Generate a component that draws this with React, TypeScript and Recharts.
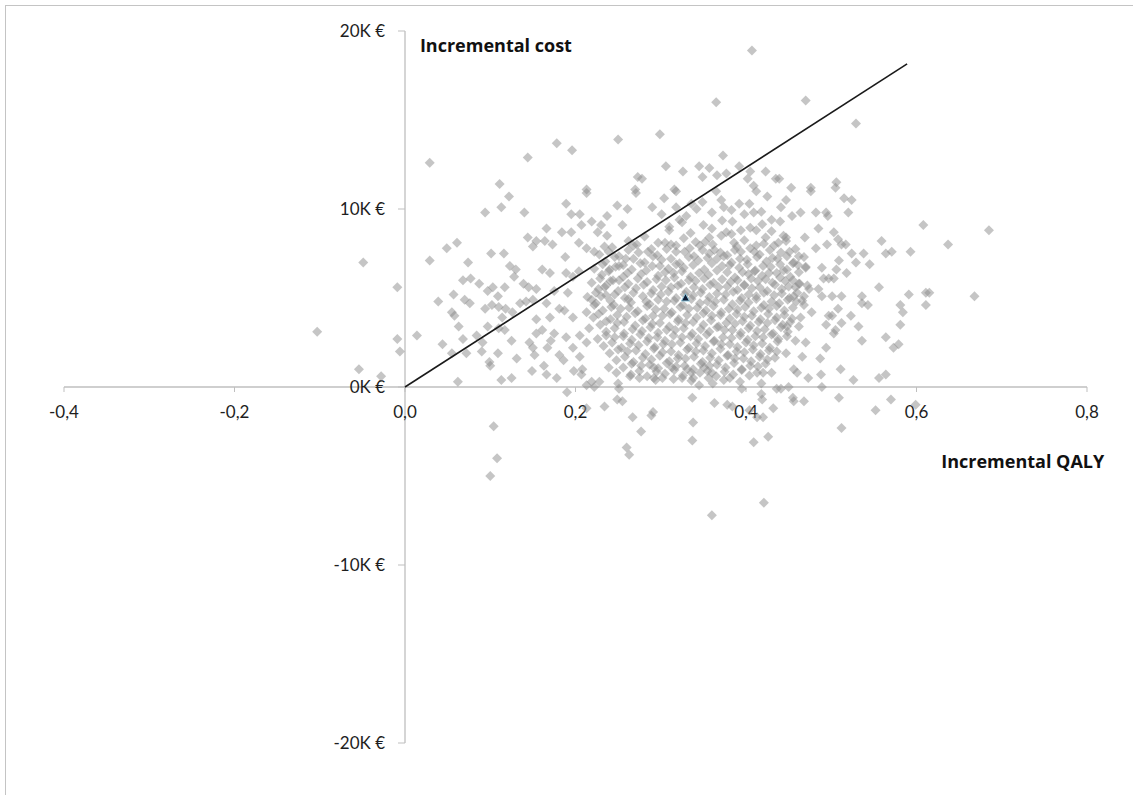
import { ScatterChart, Scatter, XAxis, YAxis, ReferenceLine, ReferenceDot } from "recharts";

// Cost-effectiveness plane: each pair is [incremental QALY, incremental cost in K€]
const X_TICKS = [-0.4, -0.2, 0, 0.2, 0.4, 0.6, 0.8];
const Y_TICKS = [-20000, -10000, 0, 10000, 20000];

const outliers: [number, number][] = [
  [-0.103, 3.1], [-0.049, 7.0], [-0.009, 5.6], [-0.054, 1.0], [-0.028, 0.6], [-0.009, 2.7], [-0.006, 2.0],
  [0.029, 12.6], [0.144, 12.9], [0.111, 11.4], [0.178, 13.7], [0.196, 13.3], [0.25, 13.9], [0.299, 14.2],
  [0.365, 16.0], [0.407, 18.9], [0.47, 16.1], [0.529, 14.8],
  [0.608, 9.1], [0.685, 8.8], [0.637, 8.0], [0.668, 5.1], [0.611, 5.3], [0.615, 5.3], [0.611, 4.6],
  [0.104, -2.2], [0.108, -4.0], [0.1, -5.0], [0.421, -6.5], [0.36, -7.2], [0.512, -2.3], [0.599, -1.0],
  [0.552, -1.3], [0.57, -0.7],
];

const upperBand: [number, number][] = [
  [0.306, 12.4], [0.326, 12.1], [0.345, 12.4], [0.357, 12.3], [0.373, 13.0], [0.392, 12.4], [0.405, 12.1],
  [0.423, 12.1], [0.435, 11.7], [0.273, 11.8], [0.278, 11.7], [0.349, 11.8], [0.366, 11.9], [0.377, 12.0],
  [0.402, 11.7], [0.409, 11.3], [0.213, 11.1], [0.27, 11.1], [0.316, 11.1], [0.439, 11.7], [0.453, 11.2],
  [0.476, 11.2], [0.506, 11.5], [0.505, 11.2],
  [0.213, 10.9], [0.271, 10.9], [0.189, 10.3], [0.195, 9.7], [0.205, 9.7], [0.207, 9.1], [0.166, 8.9],
  [0.184, 8.7], [0.195, 8.7], [0.219, 9.3], [0.23, 9.1], [0.226, 8.7], [0.237, 9.6], [0.249, 10.2],
  [0.255, 9.1], [0.261, 10.0], [0.237, 8.5], [0.164, 8.2], [0.173, 8.0], [0.204, 8.1], [0.213, 7.8],
  [0.222, 7.6], [0.234, 7.9], [0.188, 7.3], [0.204, 6.5], [0.161, 6.6], [0.17, 6.4], [0.189, 6.4],
  [0.197, 6.2], [0.175, 5.4], [0.191, 5.3], [0.166, 4.7], [0.181, 4.4], [0.187, 4.3], [0.197, 3.9],
  [0.17, 3.9], [0.161, 3.2], [0.175, 3.0], [0.189, 2.8], [0.197, 2.2], [0.167, 2.2], [0.181, 1.8],
  [0.205, 1.7], [0.213, 2.5], [0.216, 3.3], [0.213, 4.2], [0.222, 4.6], [0.23, 5.1], [0.234, 5.6],
  [0.24, 6.6], [0.251, 6.8], [0.244, 6.0],
  [0.29, 10.1], [0.304, 10.6], [0.318, 10.1], [0.322, 9.4], [0.31, 9.0], [0.301, 9.7], [0.33, 9.6],
  [0.336, 10.3], [0.342, 10.0], [0.349, 10.4], [0.36, 9.8], [0.371, 10.5], [0.374, 10.1], [0.384, 9.3],
  [0.392, 10.3], [0.404, 10.3], [0.412, 11.0], [0.398, 9.7], [0.409, 9.8], [0.43, 9.4], [0.425, 10.7],
  [0.365, 11.0], [0.318, 11.0], [0.394, 8.8], [0.412, 8.8], [0.423, 8.4], [0.377, 8.7], [0.357, 8.4],
];

const leftBand: [number, number][] = [
  [0.014, 2.9], [0.029, 7.1], [0.049, 7.8], [0.061, 8.1], [0.094, 9.8], [0.113, 10.1], [0.122, 10.7],
  [0.14, 9.8], [0.074, 7.0], [0.101, 7.5], [0.116, 7.5], [0.068, 6.0], [0.077, 6.1], [0.087, 5.8],
  [0.057, 5.2], [0.039, 4.8], [0.07, 4.9], [0.076, 4.7], [0.097, 5.4], [0.103, 5.6], [0.109, 5.1],
  [0.117, 5.6], [0.123, 6.8], [0.13, 6.6], [0.128, 6.2], [0.139, 5.8], [0.145, 5.6], [0.154, 5.5],
  [0.144, 8.4], [0.15, 7.9], [0.154, 8.2], [0.055, 4.2], [0.058, 4.0], [0.094, 4.4], [0.102, 4.6],
  [0.11, 4.5], [0.118, 4.4], [0.126, 4.2], [0.135, 4.7], [0.142, 4.8], [0.063, 3.4], [0.097, 3.4],
  [0.114, 3.9], [0.11, 3.3], [0.117, 3.2], [0.068, 2.7], [0.084, 2.9], [0.091, 2.5], [0.125, 2.6],
  [0.044, 2.4], [0.055, 1.9], [0.072, 1.9], [0.09, 2.0], [0.109, 1.9], [0.146, 2.5], [0.15, 2.2],
  [0.154, 3.0], [0.152, 1.8], [0.131, 1.6], [0.099, 1.4], [0.154, 3.8], [0.15, 4.9],
  [0.062, 0.3], [0.1, 1.2], [0.113, 0.4], [0.125, 0.5], [0.149, 0.9],
  [0.163, 1.2], [0.178, 0.5], [0.186, 1.5], [0.198, 0.9], [0.205, 2.9], [0.171, 2.6],
];

const lowerBand: [number, number][] = [
  [0.19, -0.3], [0.213, -1.2], [0.234, -1.1], [0.249, -0.7], [0.255, -0.8], [0.267, -1.7], [0.277, -2.5],
  [0.289, -1.6], [0.291, -1.4], [0.26, -3.4], [0.263, -3.8], [0.337, -0.6], [0.338, -2.0], [0.337, -3.0],
  [0.363, -0.9], [0.378, -1.0], [0.384, -1.1], [0.404, -1.3], [0.413, -1.7], [0.42, -1.7], [0.432, -1.2],
  [0.409, -3.1], [0.426, -2.8], [0.418, -0.4], [0.419, -0.7],
  [0.166, 0.7], [0.207, 0.7], [0.208, 1.0], [0.213, 0.1], [0.219, 0.3], [0.222, 0.0], [0.228, 0.3],
  [0.239, 1.1], [0.248, 0.8], [0.25, 0.2], [0.251, -0.1], [0.264, 0.6], [0.275, 0.5], [0.292, 0.5],
  [0.302, 0.5], [0.292, 1.1], [0.313, 1.1], [0.325, 0.5], [0.338, 0.5], [0.331, 1.0], [0.345, 0.1],
  [0.351, 1.1], [0.361, 0.2], [0.36, 0.8], [0.381, 0.5], [0.393, 0.3], [0.395, -0.1], [0.418, 0.2],
  [0.42, 0.8], [0.43, 0.8], [0.436, -0.1],
  [0.456, 1.0], [0.46, 0.8], [0.45, 0.0], [0.441, -0.1], [0.455, -0.6], [0.456, -0.8], [0.468, -0.8],
  [0.473, 0.5], [0.488, 0.7], [0.489, 0.0], [0.511, 1.0], [0.509, -0.6], [0.526, 0.4], [0.556, 0.5],
  [0.564, 0.7],
];

const rightBand: [number, number][] = [
  [0.559, 8.2], [0.564, 7.5], [0.571, 7.6], [0.593, 7.6], [0.538, 7.5], [0.545, 6.9], [0.529, 7.0],
  [0.524, 7.5], [0.556, 5.6], [0.591, 5.2], [0.581, 4.6], [0.584, 4.2], [0.581, 3.5], [0.536, 5.1],
  [0.543, 4.6], [0.536, 4.7], [0.532, 3.4], [0.536, 2.6], [0.564, 2.8], [0.573, 2.2], [0.579, 2.4],
  [0.494, 2.2], [0.487, 1.6], [0.512, 3.6], [0.523, 4.0], [0.505, 3.2], [0.501, 4.0], [0.494, 3.5],
  [0.508, 4.4], [0.512, 5.1], [0.501, 5.1], [0.489, 5.1], [0.485, 5.5], [0.509, 7.1], [0.506, 6.6],
  [0.518, 6.4], [0.497, 6.1], [0.491, 6.1], [0.503, 6.1], [0.489, 6.7], [0.495, 8.0], [0.512, 8.0],
  [0.517, 8.0], [0.482, 7.8], [0.503, 8.7], [0.508, 8.3], [0.469, 8.4], [0.494, 9.8], [0.496, 9.6],
  [0.482, 9.8], [0.485, 8.9], [0.52, 9.8], [0.515, 10.6], [0.524, 10.5], [0.476, 11.0], [0.447, 10.5],
  [0.464, 9.8], [0.454, 9.6], [0.444, 8.5], [0.447, 8.2], [0.456, 7.0], [0.468, 7.3], [0.47, 6.7],
  [0.462, 5.8], [0.474, 5.5], [0.456, 5.1], [0.468, 4.6], [0.477, 4.2], [0.464, 3.9], [0.462, 3.4],
  [0.448, 3.4], [0.47, 2.5], [0.466, 1.7], [0.447, 1.9], [0.497, 4.0], [0.503, 3.0],
];

const core: [number, number][] = [
  [0.262, 8.2], [0.281, 8.45], [0.305, 8.1], [0.327, 8.35], [0.352, 8.15], [0.371, 8.5], [0.398, 8.25], [0.421, 8.05], [0.447, 8.4],
  [0.31, 8.8], [0.335, 8.65], [0.36, 8.9], [0.383, 8.6], [0.405, 8.95], [0.43, 8.75],
  [0.325, 9.25], [0.35, 9.1], [0.372, 9.35], [0.419, 9.15], [0.44, 9.3],
  [0.383, 9.95], [0.418, 9.85], [0.441, 10.1],
  [0.243, 7.85], [0.268, 7.95], [0.289, 7.75], [0.312, 8.0], [0.334, 7.8], [0.346, 7.95], [0.363, 7.7], [0.389, 7.9], [0.405, 7.8], [0.433, 7.95], [0.458, 7.75],
  [0.228, 7.45], [0.251, 7.35], [0.274, 7.55], [0.296, 7.4], [0.318, 7.6], [0.339, 7.35], [0.357, 7.5], [0.378, 7.4], [0.394, 7.6], [0.416, 7.45], [0.441, 7.55], [0.462, 7.35],
  [0.235, 7.05], [0.259, 7.2], [0.281, 7.0], [0.301, 7.15], [0.322, 6.95], [0.344, 7.1], [0.366, 7.2], [0.383, 7.0], [0.401, 7.15], [0.424, 7.05], [0.437, 7.2], [0.455, 6.95],
  [0.222, 6.65], [0.247, 6.75], [0.266, 6.6], [0.29, 6.8], [0.309, 6.65], [0.327, 6.7], [0.351, 6.6], [0.372, 6.8], [0.392, 6.7], [0.411, 6.55], [0.429, 6.75], [0.448, 6.6], [0.47, 6.75],
  [0.231, 6.3], [0.256, 6.2], [0.277, 6.35], [0.297, 6.25], [0.315, 6.4], [0.335, 6.2], [0.356, 6.3], [0.378, 6.45], [0.387, 6.15], [0.403, 6.35], [0.419, 6.25], [0.436, 6.4], [0.452, 6.2],
  [0.219, 5.85], [0.241, 5.95], [0.262, 5.8], [0.284, 5.9], [0.306, 6.0], [0.324, 5.8], [0.341, 5.95], [0.362, 5.85], [0.382, 5.9], [0.398, 5.75], [0.414, 5.95], [0.431, 5.85], [0.446, 5.95], [0.463, 5.8],
  [0.227, 5.5], [0.25, 5.4], [0.271, 5.55], [0.291, 5.45], [0.312, 5.6], [0.33, 5.35], [0.349, 5.5], [0.368, 5.6], [0.39, 5.45], [0.407, 5.55], [0.425, 5.4], [0.442, 5.5], [0.458, 5.6],
  [0.214, 5.05], [0.236, 5.15], [0.258, 5.0], [0.279, 5.1], [0.3, 5.2], [0.318, 5.0], [0.338, 5.15], [0.357, 5.05], [0.376, 5.2], [0.395, 5.0], [0.412, 5.1], [0.433, 5.15], [0.451, 5.0], [0.468, 5.1],
  [0.224, 4.7], [0.245, 4.6], [0.265, 4.75], [0.287, 4.65], [0.307, 4.8], [0.326, 4.6], [0.346, 4.7], [0.364, 4.8], [0.384, 4.65], [0.403, 4.75], [0.421, 4.6], [0.439, 4.7], [0.459, 4.8],
  [0.232, 4.3], [0.253, 4.4], [0.273, 4.25], [0.294, 4.35], [0.313, 4.2], [0.333, 4.4], [0.353, 4.3], [0.371, 4.2], [0.39, 4.35], [0.409, 4.25], [0.427, 4.4], [0.445, 4.3],
  [0.221, 3.9], [0.241, 3.8], [0.26, 3.95], [0.282, 3.85], [0.302, 4.0], [0.321, 3.8], [0.342, 3.9], [0.36, 4.0], [0.381, 3.85], [0.398, 3.95], [0.417, 3.8], [0.436, 3.9], [0.454, 3.85],
  [0.229, 3.5], [0.249, 3.6], [0.27, 3.45], [0.29, 3.55], [0.31, 3.4], [0.329, 3.6], [0.35, 3.5], [0.368, 3.4], [0.387, 3.55], [0.405, 3.45], [0.425, 3.6], [0.443, 3.5],
  [0.236, 3.1], [0.257, 3.0], [0.278, 3.15], [0.297, 3.05], [0.317, 3.2], [0.337, 3.0], [0.357, 3.1], [0.375, 3.2], [0.394, 3.05], [0.413, 3.15], [0.432, 3.0], [0.449, 3.1],
  [0.226, 2.7], [0.246, 2.8], [0.266, 2.65], [0.286, 2.75], [0.305, 2.6], [0.325, 2.8], [0.344, 2.7], [0.363, 2.6], [0.383, 2.75], [0.402, 2.65], [0.42, 2.8], [0.438, 2.7], [0.458, 2.6],
  [0.233, 2.3], [0.254, 2.2], [0.274, 2.35], [0.293, 2.25], [0.313, 2.4], [0.333, 2.2], [0.352, 2.3], [0.371, 2.4], [0.39, 2.25], [0.409, 2.35], [0.428, 2.2],
  [0.24, 1.9], [0.261, 2.0], [0.282, 1.85], [0.302, 1.95], [0.321, 1.8], [0.341, 2.0], [0.36, 1.9], [0.379, 1.8], [0.398, 1.95], [0.417, 1.85], [0.436, 2.0],
  [0.248, 1.5], [0.268, 1.4], [0.289, 1.55], [0.31, 1.45], [0.329, 1.6], [0.349, 1.4], [0.368, 1.5], [0.387, 1.6], [0.406, 1.45], [0.425, 1.55],
  [0.256, 1.1], [0.277, 1.2], [0.297, 1.05], [0.318, 1.15], [0.338, 1.0], [0.357, 1.2], [0.376, 1.1], [0.395, 1.0], [0.414, 1.15],
  [0.265, 0.7], [0.284, 0.6], [0.305, 0.75], [0.326, 0.65], [0.346, 0.8], [0.365, 0.6], [0.385, 0.7], [0.404, 0.65],
];

// second, offset layer of the dense centre of the cloud
const coreFill: [number, number][] = [
  [0.272, 8.0], [0.297, 8.1], [0.318, 7.95], [0.341, 8.15], [0.361, 8.0], [0.386, 8.1], [0.412, 7.95], [0.438, 8.1],
  [0.239, 7.6], [0.262, 7.7], [0.285, 7.6], [0.307, 7.75], [0.328, 7.6], [0.349, 7.7], [0.37, 7.55], [0.387, 7.7], [0.41, 7.6], [0.428, 7.7], [0.451, 7.6],
  [0.246, 7.3], [0.268, 7.2], [0.291, 7.35], [0.312, 7.2], [0.333, 7.3], [0.355, 7.25], [0.374, 7.35], [0.393, 7.2], [0.413, 7.3], [0.431, 7.25], [0.448, 7.35],
  [0.232, 6.9], [0.256, 6.85], [0.276, 6.95], [0.299, 6.8], [0.318, 6.9], [0.338, 6.85], [0.36, 6.95], [0.381, 6.85], [0.402, 6.9], [0.42, 6.8], [0.44, 6.9], [0.461, 6.85],
  [0.239, 6.5], [0.261, 6.4], [0.283, 6.55], [0.305, 6.45], [0.325, 6.5], [0.345, 6.4], [0.366, 6.55], [0.396, 6.45], [0.41, 6.5], [0.427, 6.4], [0.444, 6.55], [0.462, 6.45],
  [0.229, 6.1], [0.251, 6.0], [0.273, 6.1], [0.295, 6.05], [0.316, 6.15], [0.333, 6.0], [0.351, 6.1], [0.372, 6.05], [0.39, 6.0], [0.406, 6.1], [0.423, 6.05], [0.44, 6.15], [0.455, 6.0],
  [0.236, 5.7], [0.258, 5.6], [0.28, 5.75], [0.301, 5.65], [0.32, 5.7], [0.339, 5.6], [0.358, 5.75], [0.378, 5.65], [0.398, 5.7], [0.416, 5.6], [0.434, 5.75], [0.45, 5.65], [0.472, 5.7],
  [0.224, 5.3], [0.246, 5.2], [0.268, 5.3], [0.289, 5.25], [0.309, 5.35], [0.328, 5.2], [0.347, 5.3], [0.366, 5.25], [0.385, 5.35], [0.403, 5.2], [0.421, 5.3], [0.442, 5.25], [0.46, 5.3],
  [0.219, 4.9], [0.241, 4.85], [0.262, 4.95], [0.283, 4.8], [0.297, 4.9], [0.316, 4.85], [0.336, 4.95], [0.355, 4.8], [0.374, 4.9], [0.393, 4.85], [0.412, 4.95], [0.43, 4.8], [0.449, 4.9], [0.466, 4.85],
  [0.242, 4.5], [0.263, 4.45], [0.284, 4.55], [0.304, 4.4], [0.323, 4.5], [0.343, 4.45], [0.362, 4.55], [0.38, 4.4], [0.399, 4.5], [0.418, 4.45], [0.436, 4.55], [0.455, 4.45],
  [0.227, 4.1], [0.249, 4.05], [0.27, 4.15], [0.291, 4.0], [0.311, 4.1], [0.331, 4.05], [0.35, 4.15], [0.37, 4.05], [0.389, 4.1], [0.407, 4.0], [0.426, 4.1], [0.445, 4.05],
  [0.236, 3.7], [0.257, 3.65], [0.279, 3.75], [0.299, 3.6], [0.32, 3.7], [0.338, 3.65], [0.359, 3.75], [0.377, 3.6], [0.396, 3.7], [0.415, 3.65], [0.434, 3.75], [0.452, 3.65],
  [0.246, 3.3], [0.267, 3.25], [0.288, 3.35], [0.307, 3.2], [0.327, 3.3], [0.347, 3.25], [0.366, 3.35], [0.384, 3.2], [0.403, 3.3], [0.422, 3.25], [0.441, 3.35],
  [0.236, 2.9], [0.256, 2.85], [0.276, 2.95], [0.296, 2.8], [0.315, 2.9], [0.335, 2.85], [0.354, 2.95], [0.373, 2.8], [0.393, 2.9], [0.411, 2.85], [0.43, 2.95], [0.448, 2.85],
  [0.243, 2.5], [0.264, 2.45], [0.284, 2.55], [0.303, 2.4], [0.323, 2.5], [0.342, 2.45], [0.362, 2.55], [0.381, 2.4], [0.4, 2.5], [0.419, 2.45], [0.437, 2.55],
  [0.25, 2.1], [0.271, 2.05], [0.292, 2.15], [0.312, 2.0], [0.331, 2.1], [0.35, 2.05], [0.37, 2.15], [0.389, 2.0], [0.408, 2.1], [0.427, 2.05],
  [0.258, 1.7], [0.279, 1.65], [0.299, 1.75], [0.32, 1.6], [0.339, 1.7], [0.358, 1.65], [0.378, 1.75], [0.397, 1.6], [0.416, 1.7], [0.434, 1.65],
  [0.266, 1.3], [0.287, 1.25], [0.307, 1.35], [0.328, 1.2], [0.347, 1.3], [0.366, 1.25], [0.386, 1.35], [0.405, 1.2], [0.423, 1.3],
  [0.275, 0.9], [0.295, 0.85], [0.316, 0.95], [0.336, 0.8], [0.355, 0.9], [0.375, 0.85], [0.395, 0.95], [0.413, 0.8],
  [0.294, 0.4], [0.315, 0.45], [0.336, 0.35], [0.356, 0.5], [0.374, 0.4],
];

const MEAN: [number, number] = [0.329, 5.0];
const THRESHOLD_LINE: [number, number][] = [[0, 0], [0.589, 18.15]];

const toPoints = (list: [number, number][]) => list.map(([q, c]) => ({ qaly: q, cost: c * 1000 }));

const simulations = toPoints([...outliers, ...upperBand, ...leftBand, ...lowerBand, ...rightBand, ...core, ...coreFill]);
const meanData = toPoints([MEAN]);
const lineData = toPoints(THRESHOLD_LINE);

const TICK_FONT = "Lato, 'Open Sans', sans-serif";
const TITLE_FONT = "'Open Sans', Lato, sans-serif";
const AXIS_GRAY = "#bfbfbf";
const TEXT = "#1e1e1e";

const fmtQaly = (v: number) => v.toFixed(1).replace(".", ",");
const fmtCost = (v: number) => `${v / 1000}K €`;

const Diamond = (props: any) => {
  const { cx, cy } = props;
  const r = 5;
  return (
    <path
      d={`M${cx},${cy - r}L${cx + r},${cy}L${cx},${cy + r}L${cx - r},${cy}Z`}
      fill="#8c8c8c"
      fillOpacity={0.5}
    />
  );
};

const Triangle = (props: any) => {
  const { cx, cy } = props;
  return (
    <path
      d={`M${cx},${cy - 4.5}L${cx + 4},${cy + 3}L${cx - 4},${cy + 3}Z`}
      fill="#0d1b33"
      stroke="#8fc7dd"
      strokeWidth={1}
    />
  );
};

const XTick = (label: string) => (props: any) => {
  const { cx, cy } = props;
  return (
    <g>
      <line x1={cx} y1={cy} x2={cx} y2={cy + 5} stroke={AXIS_GRAY} />
      <text x={cx} y={cy + 31} textAnchor="middle" fontFamily={TICK_FONT} fontSize={17} fill={TEXT}>
        {label}
      </text>
    </g>
  );
};

const YTick = (label: string) => (props: any) => {
  const { cx, cy } = props;
  return (
    <g>
      <line x1={cx - 7} y1={cy} x2={cx} y2={cy} stroke={AXIS_GRAY} />
      <text x={cx - 20} y={cy + 6} textAnchor="end" fontFamily={TICK_FONT} fontSize={17} fill={TEXT}>
        {label}
      </text>
    </g>
  );
};

const Title = (label: string) => (props: any) => {
  const { cx, cy } = props;
  return (
    <text x={cx} y={cy} textAnchor="start" fontFamily={TITLE_FONT} fontSize={18} fontWeight={700} fill="#111">
      {label}
    </text>
  );
};

export default function App() {
  return (
    <div style={{ position: "fixed", inset: 0, background: "#fff", overflow: "hidden" }}>
      <div
        style={{
          position: "absolute",
          left: 5,
          top: 5,
          right: 0,
          bottom: 0,
          borderLeft: "1.5px solid #c4c4c4",
          borderTop: "1.5px solid #c4c4c4",
        }}
      />
      <div style={{ position: "absolute", left: 0, top: 0 }}>
        <ScatterChart width={1133} height={795} margin={{ top: 31, right: 46, bottom: 52, left: 64 }}>
          <XAxis dataKey="qaly" type="number" domain={[-0.4, 0.8]} ticks={X_TICKS} hide />
          <YAxis dataKey="cost" type="number" domain={[-20000, 20000]} ticks={Y_TICKS} hide />
          <ReferenceLine y={0} stroke={AXIS_GRAY} strokeWidth={1.3} />
          <ReferenceLine x={0} stroke={AXIS_GRAY} strokeWidth={1.3} />
          {X_TICKS.map((t) => (
            <ReferenceDot key={`x${t}`} x={t} y={0} r={0} shape={XTick(fmtQaly(t))} />
          ))}
          {Y_TICKS.map((t) => (
            <ReferenceDot key={`y${t}`} x={0} y={t} r={0} shape={YTick(fmtCost(t))} />
          ))}
          <Scatter data={simulations} shape={Diamond} isAnimationActive={false} />
          <Scatter
            data={lineData}
            line={{ stroke: "#1a1a1a", strokeWidth: 1.6 }}
            shape={() => <g />}
            isAnimationActive={false}
          />
          <Scatter data={meanData} shape={Triangle} isAnimationActive={false} />
          <ReferenceDot x={0.0175} y={18840} r={0} shape={Title("Incremental cost")} />
          <ReferenceDot x={0.629} y={-4560} r={0} shape={Title("Incremental QALY")} />
        </ScatterChart>
      </div>
    </div>
  );
}
